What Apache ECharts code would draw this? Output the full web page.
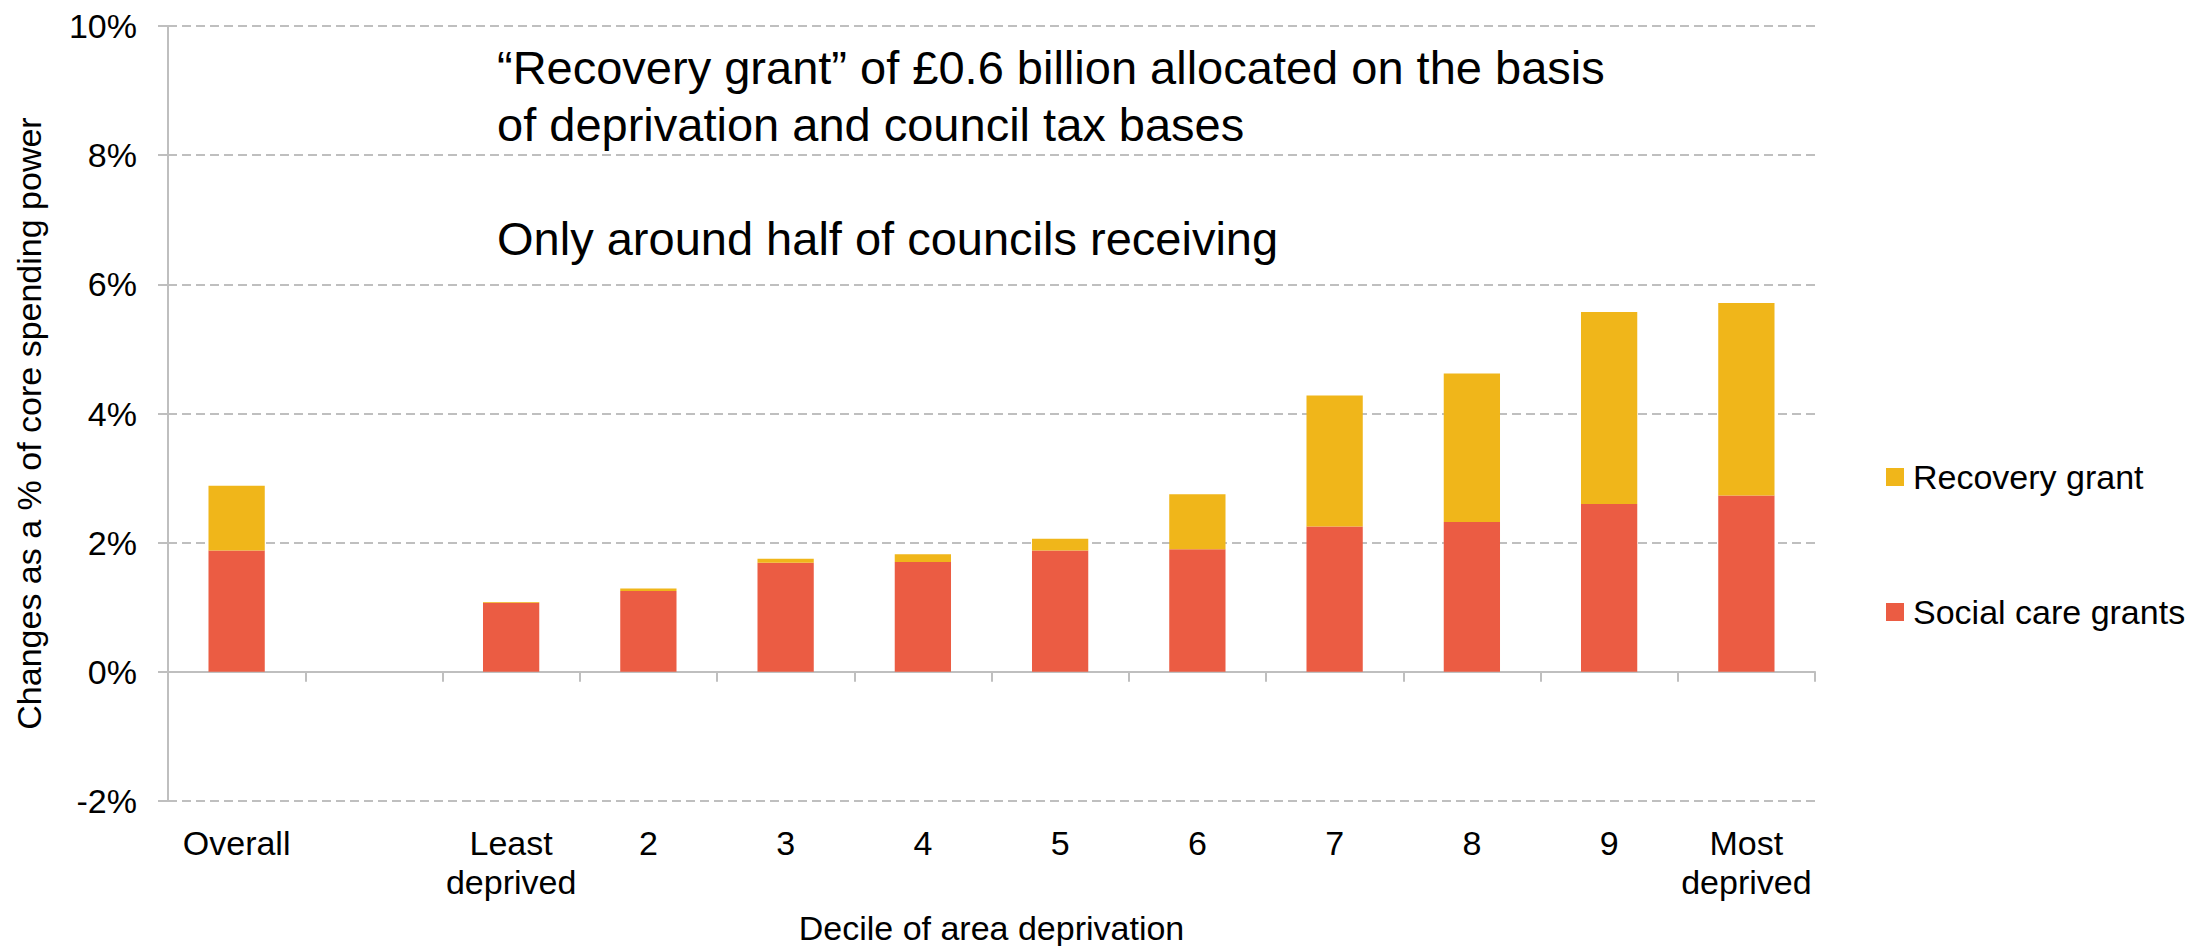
<!DOCTYPE html>
<html>
<head>
<meta charset="utf-8">
<title>Social care and recovery grants by deprivation decile</title>
<script src="https://cdn.jsdelivr.net/npm/echarts@6/dist/echarts.min.js"></script>
<style>
  html, body { margin: 0; padding: 0; background: #ffffff; }
  #chart { width: 2193px; height: 946px; }
</style>
</head>
<body>
<div id="chart"></div>
<script>
// Deprivation deciles, with the all-council average shown first and a spacer slot
const categories = ['Overall', '', 'Least\ndeprived', '2', '3', '4', '5', '6', '7', '8', '9', 'Most\ndeprived'];

// Changes as a % of core spending power
const socialCareGrants = [1.88, null, 1.07, 1.25, 1.69, 1.70, 1.88, 1.90, 2.25, 2.32, 2.60, 2.73];
const recoveryGrant    = [1.00, null, 0.01, 0.04, 0.06, 0.12, 0.18, 0.85, 2.03, 2.30, 2.97, 2.98];

const yTicks = { min: -2, max: 10, interval: 2 };

const seriesNames = ['Social care grants', 'Recovery grant'];
const seriesColors = ['#EB5C43', '#F0B61A'];

const noteLines = [
  '\u201CRecovery grant\u201D of \u00A30.6 billion allocated on the basis',
  'of deprivation and council tax bases',
  '',
  'Only around half of councils receiving'
];

const FONT = "'Liberation Sans', Arial, Helvetica, sans-serif";
const AXIS_GREY = '#BFBFBF';

const chart = echarts.init(document.getElementById('chart'), null, { renderer: 'svg' });

chart.setOption({
  animation: false,
  backgroundColor: '#ffffff',
  textStyle: { fontFamily: FONT, color: '#000000' },
  title: {
    text: noteLines.join('\n'),
    left: 497,
    top: 39,
    padding: 0,
    textStyle: { fontFamily: FONT, fontSize: 47, fontWeight: 'normal', lineHeight: 57, color: '#000000' }
  },
  legend: {
    orient: 'vertical',
    left: 1886,
    top: 460,
    padding: 0,
    itemWidth: 18,
    itemHeight: 18,
    itemGap: 101,
    icon: 'rect',
    data: ['Recovery grant', 'Social care grants'],
    textStyle: { fontFamily: FONT, fontSize: 34, lineHeight: 34, color: '#000000', padding: [0, 0, 0, 4] }
  },
  grid: { left: 168, right: 378, top: 26, bottom: 145, containLabel: false, outerBoundsMode: 'none' },
  xAxis: {
    type: 'category',
    data: categories,
    boundaryGap: true,
    name: 'Decile of area deprivation',
    nameLocation: 'middle',
    nameGap: 108,
    nameTextStyle: { fontFamily: FONT, fontSize: 34, lineHeight: 38, color: '#000000' },
    axisLine: { onZero: true, lineStyle: { color: AXIS_GREY, width: 2 } },
    axisTick: { show: true, length: 10, lineStyle: { color: AXIS_GREY, width: 2 } },
    axisLabel: {
      interval: 0,
      margin: 22,
      fontFamily: FONT,
      fontSize: 34,
      lineHeight: 39,
      color: '#000000',
      align: 'center'
    },
    splitLine: { show: false }
  },
  yAxis: {
    type: 'value',
    min: yTicks.min,
    max: yTicks.max,
    interval: yTicks.interval,
    name: 'Changes as a % of core spending power',
    nameLocation: 'middle',
    nameGap: 122,
    nameTextStyle: { fontFamily: FONT, fontSize: 34, color: '#000000', padding: [0, 20, 0, 0] },
    axisLine: { show: true, lineStyle: { color: AXIS_GREY, width: 2 } },
    axisTick: { show: true, length: 10, lineStyle: { color: AXIS_GREY, width: 2 } },
    axisLabel: {
      margin: 31,
      fontFamily: FONT,
      fontSize: 34,
      color: '#000000',
      formatter: '{value}%'
    },
    splitLine: { show: true, lineStyle: { color: AXIS_GREY, width: 2, type: [9, 5] } }
  },
  series: [
    {
      name: seriesNames[0],
      type: 'bar',
      stack: 'total',
      barWidth: '41%',
      data: socialCareGrants,
      itemStyle: { color: seriesColors[0] }
    },
    {
      name: seriesNames[1],
      type: 'bar',
      stack: 'total',
      barWidth: '41%',
      data: recoveryGrant,
      itemStyle: { color: seriesColors[1] }
    }
  ]
});
</script>
</body>
</html>
